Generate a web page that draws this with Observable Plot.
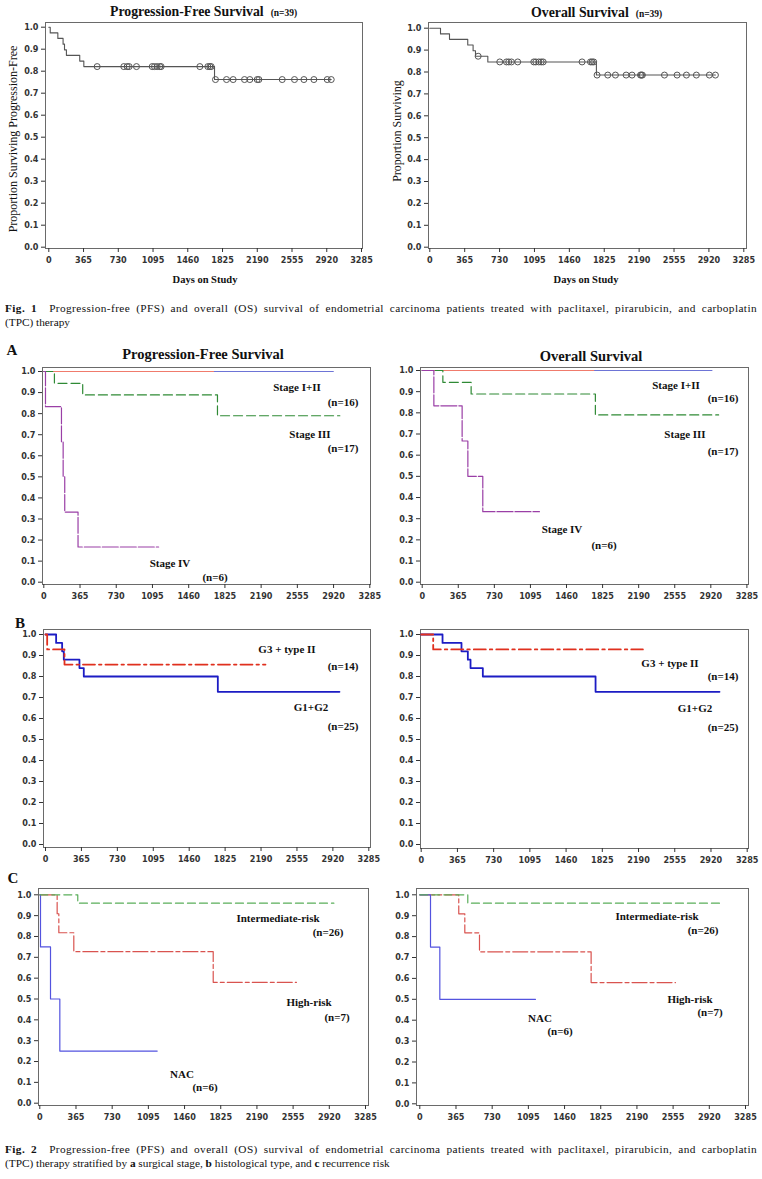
<!DOCTYPE html>
<html><head><meta charset="utf-8">
<script src="https://cdn.jsdelivr.net/npm/d3@7"></script>
<script src="https://cdn.jsdelivr.net/npm/@observablehq/plot@0.6"></script>
<style>
body{margin:0;background:#fff;}
#fig{position:relative;width:762px;height:1179px;overflow:hidden;font-family:"Liberation Serif","Times New Roman",serif;color:#111;background:#fff;}
.abs{position:absolute;white-space:nowrap;line-height:1;}
.c{transform:translate(-50%,-50%);}
.lv{transform:translate(0,-50%);}
.lab{font-weight:bold;font-size:11px;}
.ttl{font-weight:bold;font-size:14.5px;}
.ttl1{font-weight:bold;font-size:13.8px;}
.nsm{font-weight:bold;font-size:9.5px;margin-left:7px;}
.let{font-weight:bold;font-size:15px;}
.ax{font-size:12px;}
.axb{font-size:10.5px;font-weight:bold;}
.cap{position:absolute;left:5px;width:752px;font-size:11.3px;line-height:14px;}
.cap div{height:14px;overflow:hidden;}
.cap .j{text-align:justify;text-align-last:justify;letter-spacing:0.4px;}
svg{position:absolute;overflow:visible;}
</style></head>
<body><div id="fig"></div>
<script>
// ---------- data ----------
const xTicks = [0, 365, 730, 1095, 1460, 1825, 2190, 2555, 2920, 3285];
const yTicks = [0, 0.1, 0.2, 0.3, 0.4, 0.5, 0.6, 0.7, 0.8, 0.9, 1.0];

// Fig 1 all patients (n=39)
const pfsAllT = [0, 15, 95, 150, 165, 185, 325, 368, 1741, 2967];
const pfsAllS = [1, 0.974, 0.949, 0.923, 0.897, 0.872, 0.846, 0.821, 0.762, 0.762];
const pfsCensT = [508, 788, 823, 844, 921, 1086, 1110, 1138, 1166, 1180, 1587, 1671, 1692, 1706,
                  1751, 1867, 1937, 2056, 2112, 2189, 2207, 2452, 2581, 2680, 2785, 2925, 2967];
const pfsCensS = [0.821, 0.821, 0.821, 0.821, 0.821, 0.821, 0.821, 0.821, 0.821, 0.821, 0.821, 0.821, 0.821, 0.821,
                  0.762, 0.762, 0.762, 0.762, 0.762, 0.762, 0.762, 0.762, 0.762, 0.762, 0.762, 0.762, 0.762];
const osAllT = [0, 112, 206, 397, 453, 478, 607, 1743, 2988];
const osAllS = [1, 0.974, 0.949, 0.923, 0.897, 0.872, 0.846, 0.786, 0.786];
const osCensT = [506, 732, 802, 826, 854, 920, 1088, 1109, 1140, 1165, 1186, 1593, 1681, 1698, 1715,
                 1750, 1862, 1942, 2054, 2116, 2204, 2214, 2224, 2455, 2587, 2685, 2789, 2925, 2988];
const osCensS = [0.872, 0.846, 0.846, 0.846, 0.846, 0.846, 0.846, 0.846, 0.846, 0.846, 0.846, 0.846, 0.846, 0.846, 0.846,
                 0.786, 0.786, 0.786, 0.786, 0.786, 0.786, 0.786, 0.786, 0.786, 0.786, 0.786, 0.786, 0.786, 0.786];

// Fig 2A surgical stage
const st12PfsT = [0, 2917], st12PfsS = [1, 1];
const st12PfsRedT = [0, 1710], st12PfsRedS = [1, 1];
const st3PfsT = [0, 107, 392, 1750, 2983], st3PfsS = [1, 0.944, 0.889, 0.79, 0.79];
const st4PfsT = [0, 17, 178, 195, 211, 345, 1157], st4PfsS = [1, 0.833, 0.667, 0.5, 0.333, 0.167, 0.167];
const st12OsT = [0, 2931], st12OsS = [1, 1];
const st12OsRedT = [0, 1735], st12OsRedS = [1, 1];
const st3OsT = [0, 209, 495, 1752, 2999], st3OsS = [1, 0.944, 0.889, 0.79, 0.79];
const st4OsT = [0, 118, 404, 462, 613, 1186], st4OsS = [1, 0.833, 0.667, 0.5, 0.333, 0.333];

// Fig 2B histological type
const g3PfsT = [0, 17, 193, 2235], g3PfsS = [1, 0.929, 0.857, 0.857];
const g12PfsT = [0, 108, 169, 186, 345, 389, 1751, 2987], g12PfsS = [1, 0.96, 0.92, 0.88, 0.84, 0.80, 0.727, 0.727];
const g3OsT = [0, 121, 2234], g3OsS = [1, 0.929, 0.929];
const g12OsT = [0, 215, 406, 470, 497, 621, 1757, 3006], g12OsS = [1, 0.96, 0.92, 0.88, 0.84, 0.80, 0.727, 0.727];

// Fig 2C recurrence risk
const intPfsT = [0, 383, 2966], intPfsS = [1, 0.96, 0.96];
const highPfsT = [0, 175, 192, 343, 1749, 2589], highPfsS = [1, 0.909, 0.818, 0.727, 0.58, 0.58];
const nacPfsT = [0, 7, 108, 202, 1184], nacPfsS = [1, 0.75, 0.5, 0.25, 0.25];
const intOsT = [0, 484, 3050], intOsS = [1, 0.96, 0.96];
const highOsT = [0, 393, 454, 602, 1728, 2579], highOsS = [1, 0.909, 0.818, 0.727, 0.58, 0.58];
const nacOsT = [0, 108, 202, 1167], nacOsS = [1, 0.75, 0.5, 0.5];

// ---------- helpers ----------
const pts = (T, S) => T.map((t, i) => ({t, s: S[i]}));
const fig = document.getElementById("fig");
const ML = 30, MR = 6, MT = 4, MB = 20;

function km(p) {
  const [x0, y0, x1, y1] = p.frame;
  const [il, ir, it, ib] = p.inset;
  const marks = [Plot.frame({stroke: "#6a6a6a"})];
  marks.push(Plot.axisX({ticks: xTicks, tickSize: 4, tickPadding: 4, tickFormat: d => String(d), label: null}));
  marks.push(Plot.axisY({ticks: yTicks, tickSize: 4, tickPadding: 3, tickFormat: d3.format(".1f"), label: null}));
  for (const s of p.series) {
    marks.push(Plot.line(pts(s.T, s.S), {x: "t", y: "s", curve: "step-after",
      stroke: s.stroke, strokeWidth: s.w || 1.2, strokeDasharray: s.dash || null}));
  }
  if (p.cens) for (const c of p.cens) {
    marks.push(Plot.dot(pts(c.T, c.S), {x: "t", y: "s", r: 3, stroke: "#555", fill: "none", strokeWidth: 1}));
  }
  const svg = Plot.plot({
    width: (x1 - x0) + ML + MR, height: (y1 - y0) + MT + MB,
    marginLeft: ML, marginRight: MR, marginTop: MT, marginBottom: MB,
    x: {domain: [0, 3285], insetLeft: il, insetRight: ir, axis: null},
    y: {domain: [0, 1], insetTop: it, insetBottom: ib, axis: null},
    style: {fontFamily: '"Liberation Sans Narrow","DejaVu Sans Condensed","Liberation Sans",sans-serif',
            fontSize: "9px", fontWeight: "bold", color: "#333", background: "transparent"},
    marks
  });
  svg.style.left = (x0 - ML) + "px";
  svg.style.top = (y0 - MT) + "px";
  fig.appendChild(svg);
}

function txt(s, x, y, cls, extra) {
  const d = document.createElement("div");
  d.className = "abs " + cls;
  d.style.left = x + "px"; d.style.top = y + "px";
  if (extra) d.style.transform = extra;
  d.innerHTML = s;
  fig.appendChild(d);
}

// ---------- colours / styles ----------
const GRAY = "#555";
const A_BLUE = "#6d74d6", A_RED = "#f07b6c", A_GREEN = "#2f8a35", A_PURP = "#9a3fa6";
const B_RED = "#e0301e", B_BLUE = "#1c1cc4";
const C_GREEN = "#5aae5a", C_RED = "#d9534f", C_BLUE = "#5353df";

// ---------- Fig 1 ----------
km({frame: [45, 22, 362, 248], inset: [3.3, 1, 4.7, 1.3],
    series: [{T: pfsAllT, S: pfsAllS, stroke: GRAY, w: 1.1}],
    cens: [{T: pfsCensT, S: pfsCensS}]});
km({frame: [428, 22, 746, 248], inset: [1.3, 2.7, 5.7, 1.3],
    series: [{T: osAllT, S: osAllS, stroke: GRAY, w: 1.1}],
    cens: [{T: osCensT, S: osCensS}]});

// ---------- Fig 2A ----------
km({frame: [42, 367, 370, 584], inset: [1.3, 0.7, 4, 2.3],
    series: [
      {T: st12PfsT, S: st12PfsS, stroke: A_BLUE},
      {T: st12PfsRedT, S: st12PfsRedS, stroke: A_RED},
      {T: st3PfsT, S: st3PfsS, stroke: A_GREEN, dash: "9,4"},
      {T: st4PfsT, S: st4PfsS, stroke: A_PURP, dash: "16,2"}]});
km({frame: [420, 367, 748, 584], inset: [1.7, 1.6, 3, 2.3],
    series: [
      {T: st12OsT, S: st12OsS, stroke: A_BLUE},
      {T: st12OsRedT, S: st12OsRedS, stroke: A_RED},
      {T: st3OsT, S: st3OsS, stroke: A_GREEN, dash: "9,4"},
      {T: st4OsT, S: st4OsS, stroke: A_PURP, dash: "16,2"}]});

// ---------- Fig 2B ----------
km({frame: [43, 629, 370, 847], inset: [2, 1.7, 5, 3],
    series: [
      {T: g12PfsT, S: g12PfsS, stroke: B_BLUE, w: 1.8},
      {T: g3PfsT, S: g3PfsS, stroke: B_RED, w: 1.8, dash: "12,4,2.5,4"}]});
km({frame: [420, 629, 748, 848], inset: [0.7, 1.3, 5, 4],
    series: [
      {T: g12OsT, S: g12OsS, stroke: B_BLUE, w: 1.8},
      {T: g3OsT, S: g3OsS, stroke: B_RED, w: 1.8, dash: "12,4,2.5,4"}]});

// ---------- Fig 2C ----------
km({frame: [38, 888, 368, 1105], inset: [1.3, 3, 6.3, 2.3],
    series: [
      {T: highPfsT, S: highPfsS, stroke: C_RED, dash: "15,3,4,3"},
      {T: nacPfsT, S: nacPfsS, stroke: C_BLUE},
      {T: intPfsT, S: intPfsS, stroke: C_GREEN, dash: "8,4"}]});
km({frame: [416, 888, 748, 1105], inset: [3.3, 3, 6.3, 1.7],
    series: [
      {T: highOsT, S: highOsS, stroke: C_RED, dash: "15,3,4,3"},
      {T: nacOsT, S: nacOsS, stroke: C_BLUE},
      {T: intOsT, S: intOsS, stroke: C_GREEN, dash: "8,4"}]});

// ---------- texts ----------
txt('Progression-Free Survival<span class="nsm">(n=39)</span>', 110, 12, "ttl1 lv");
txt('Overall Survival<span class="nsm">(n=39)</span>', 531, 13, "ttl1 lv");
txt("Proportion Surviving Progression-Free", 13, 139, "ax", "translate(-50%,-50%) rotate(-90deg)");
txt("Proportion Surviving", 397, 131, "ax", "translate(-50%,-50%) rotate(-90deg)");
txt("Days on Study", 205, 280, "axb c");
txt("Days on Study", 586, 280, "axb c");

txt("A", 12, 350, "let c");
txt("B", 20, 623, "let c");
txt("C", 13, 878, "let c");
txt("Progression-Free Survival", 203, 354, "ttl c");
txt("Overall Survival", 591, 356, "ttl c");

const notes = [
  ["Stage I+II", 297, 387], ["(n=16)", 343, 402], ["Stage III", 310, 434], ["(n=17)", 343, 448],
  ["Stage IV", 170, 563], ["(n=6)", 215, 577],
  ["Stage I+II", 676, 385], ["(n=16)", 723, 398], ["Stage III", 685, 434], ["(n=17)", 723, 451],
  ["Stage IV", 562, 529], ["(n=6)", 604, 545],
  ["G3 + type II", 287, 649], ["(n=14)", 343, 666], ["G1+G2", 311, 707], ["(n=25)", 343, 726],
  ["G3 + type II", 670, 663], ["(n=14)", 723, 676], ["G1+G2", 695, 708], ["(n=25)", 723, 727],
  ["Intermediate-risk", 278, 918], ["(n=26)", 328, 932], ["High-risk", 309, 1002], ["(n=7)", 337, 1017],
  ["NAC", 182, 1074], ["(n=6)", 205, 1087],
  ["Intermediate-risk", 657, 916], ["(n=26)", 703, 930], ["High-risk", 690, 999], ["(n=7)", 710, 1012],
  ["NAC", 540, 1018], ["(n=6)", 560, 1031]
];
for (const [s, x, y] of notes) txt(s, x, y, "lab c");

function caption(top, l1, l2) {
  const d = document.createElement("div");
  d.className = "cap"; d.style.top = top + "px";
  d.innerHTML = `<div class="j">${l1}</div><div>${l2}</div>`;
  fig.appendChild(d);
}
caption(301, "<b>Fig. 1</b>&nbsp; Progression-free (PFS) and overall (OS) survival of endometrial carcinoma patients treated with paclitaxel, pirarubicin, and carboplatin",
  "(TPC) therapy");
caption(1142, "<b>Fig. 2</b>&nbsp; Progression-free (PFS) and overall (OS) survival of endometrial carcinoma patients treated with paclitaxel, pirarubicin, and carboplatin",
  "(TPC) therapy stratified by <b>a</b> surgical stage, <b>b</b> histological type, and <b>c</b> recurrence risk");
</script></body></html>
